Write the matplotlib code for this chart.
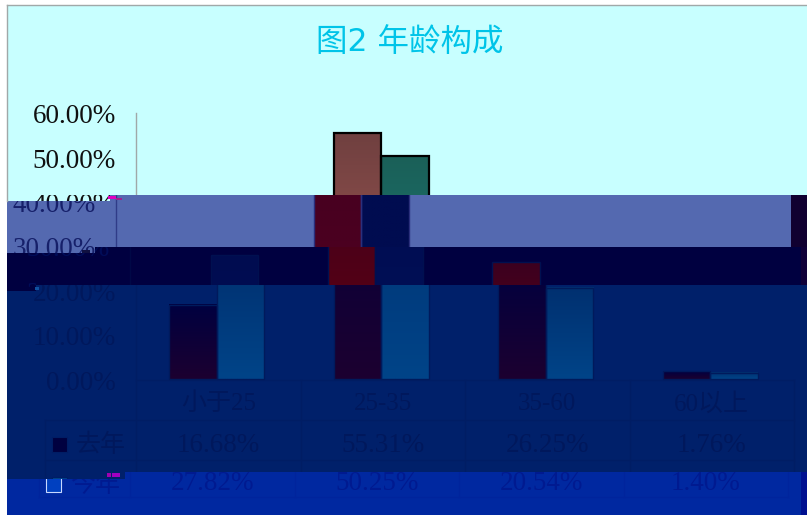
import numpy as np
import matplotlib
matplotlib.use("Agg")
import matplotlib.pyplot as plt
from matplotlib.path import Path
from matplotlib.colors import to_rgb
from matplotlib.patches import Rectangle
from matplotlib.transforms import Bbox, TransformedBbox

W, H = 807, 515

#chart data
categories = ["小于25", "25-35", "35-60", "60以上"]
series_names = ["去年", "今年"]
last_year = [16.68, 55.31, 26.25, 1.76]
this_year = [27.82, 50.25, 20.54, 1.40]
y_ticks = [0, 10, 20, 30, 40, 50, 60]
title = "图2 年龄构成"

#layout in pixels
X_ZERO, Y_ZERO = 216.8, 379.0
CELL = 164.5
PER_PCT = 4.44
BAR_W = 0.288
ROWS = [380, 420, 460, 497]
COLS = [136, 300.5, 465, 629.5, 794]
TEXT_FONT = ["Liberation Serif", "Noto Sans CJK SC"]
TITLE_FONT = ["DejaVu Sans", "Noto Sans CJK SC"]


def poly(rects):
    #join rectangles into one clip path
    verts, codes = [], []
    for x0, x1, y0, y1 in rects:
        verts += [(x0, y0), (x1, y0), (x1, y1), (x0, y1), (x0, y0)]
        codes += [Path.MOVETO, Path.LINETO, Path.LINETO, Path.LINETO, Path.CLOSEPOLY]
    return Path(verts, codes)


#the picture is broken into bands, each with its own shift and colours
bands = [
    dict(dx=0, rects=[(7, W, 5, 195), (7, 110, 195, 201)],
         bg="#c8ffff", text="#101010", line="#a0a8a8", title="#00c4e8",
         edge="#000000", b1=("#704040", "#b06058"), b2=("#1a6058", "#208080"), lw=1.6),
    dict(dx=-20, rects=[(110, W, 195, 201), (7, 95, 201, 253), (95, W, 201, 247)],
         bg="#5469b0", text="#16206a", line="#303c88", title="#000000",
         edge="#2a2f7c", b1=("#440020", "#540020"), b2=("#000c50", "#000c50"), lw=1),
    dict(dx=-6, rects=[(95, W, 247, 253), (7, 36, 253, 291), (36, W, 253, 285)],
         bg="#000040", text="#000c58", line="#000846", title="#000000",
         edge="#001050", b1=("#3c0020", "#600010"), b2=("#000c50", "#001058"), lw=1),
    dict(dx=0, rects=[(36, W, 285, 291), (7, 125, 291, 479), (125, W, 291, 472)],
         bg="#00206a", text="#00185c", line="#001d64", title="#000000",
         edge="#001a5c", b1=("#000040", "#1c0030"), b2=("#003070", "#004488"), lw=1),
    dict(dx=-6, rects=[(125, W, 472, 479), (7, W, 479, 515)],
         bg="#0028a0", text="#001a90", line="#00249c", title="#000000",
         edge="#0018a0", b1=("#000040", "#1c0030"), b2=("#0040c0", "#0040c0"), lw=1),
]

#leftovers of the shifted bands at the right edge
edge_strips = [(791, 195, 16, 52, "#100030"), (801, 247, 6, 38, "#100038"), (801, 472, 6, 43, "#001090")]
#small noise specks where the bands restart
specks = [(108, 196, 8, 3, "#e000c0"), (116, 198, 6, 2, "#a02090"), (82, 250, 8, 3, "#101040"),
          (35, 287, 4, 3, "#1050a0"), (107, 473, 4, 4, "#a000b0"), (112, 473, 8, 4, "#a000c0")]

fig = plt.figure(figsize=(W / 100, H / 100), dpi=100, facecolor="white")
renderer = fig.canvas.get_renderer()
base = fig.add_axes([0, 0, 1, 1])
base.set_xlim(0, W)
base.set_ylim(H, 0)
base.axis("off")


def gradient_bar(ax, bar, colors, clip):
    x0, w, h = bar.get_x(), bar.get_width(), bar.get_height()
    top, bottom = np.array(to_rgb(colors[0])), np.array(to_rgb(colors[1]))
    t = np.linspace(0, 1, 64)[:, None]
    img = (top + (bottom - top) * t)[:, None, :]
    im = ax.imshow(img, extent=[x0, x0 + w, 0, h], aspect="auto", zorder=2, interpolation="bilinear")
    im.set_clip_path(*clip)


def draw_band(band):
    dx = band["dx"]
    rects = band["rects"]
    #pixel axes for background, table and text, data axes for the bars
    px = fig.add_axes([0, 0, 1, 1], frameon=False)
    px.set_xlim(-dx, W - dx)
    px.set_ylim(H, 0)
    px.axis("off")
    data = fig.add_axes([0, 0, 1, 1], frameon=False)
    data.axis("off")
    xlim = ((-dx - X_ZERO) / CELL, (W - dx - X_ZERO) / CELL)
    ylim = ((Y_ZERO - H) / PER_PCT, Y_ZERO / PER_PCT)

    clip = (poly(rects), base.transData)
    artists = []

    artists.append(base.add_patch(Rectangle((0, 0), W, H, fc=band["bg"], ec="none", zorder=1)))

    def add_text(x, y, s, size, color=None, ha="center", family=TEXT_FONT):
        #agg clips text to boxes only, so one copy per rectangle it touches
        for x0, x1, y0, y1 in rects:
            t = px.text(x, y, s, fontsize=size, color=color or band["text"], ha=ha, va="center",
                        family=family, zorder=6)
            e = t.get_window_extent(renderer)
            top_y, bot_y = H - e.y1 + 4, H - e.y0 - 4
            if min(bot_y, y1) - max(top_y, y0) < 3 or min(e.x1, x1) - max(e.x0, x0) < 2:
                t.remove()
                continue
            t.set_clip_on(True)
            t.set_clip_box(TransformedBbox(Bbox.from_extents(x0, y0, x1, y1), base.transData))

    add_text(410, 43, title, 22.7, color=band["title"], family=TITLE_FONT)
    for t in y_ticks:
        add_text(116, Y_ZERO - t * PER_PCT + 4, "%.2f%%" % t, 19.5, ha="right")

    #table and axis lines
    lc = band["line"]
    artists += px.plot([COLS[0], COLS[0]], [Y_ZERO - 60 * PER_PCT, ROWS[-1]], color=lc, lw=1, zorder=5)
    artists += px.plot([COLS[0], COLS[-1]], [ROWS[0], ROWS[0]], color=lc, lw=1, zorder=5)
    for c in COLS[1:]:
        artists += px.plot([c, c], [ROWS[0], ROWS[-1]], color=lc, lw=1, zorder=5)
    for r in ROWS[1:]:
        artists += px.plot([45, COLS[-1]], [r, r], color=lc, lw=1, zorder=5)
    artists += px.plot([45, 45], [ROWS[1], ROWS[-1]], color=lc, lw=1, zorder=5)

    for i, cat in enumerate(categories):
        cx = COLS[0] + CELL * (i + 0.5)
        add_text(cx, 404, cat, 18)
        add_text(cx, 445, "%.2f%%" % last_year[i], 19.5)
        add_text(cx, 484, "%.2f%%" % this_year[i], 19.5)

    #legend keys inside the table
    add_text(101, 445, series_names[0], 18)
    add_text(101, 485, series_names[1], 18)
    artists.append(px.add_patch(Rectangle((52, 437), 15, 15, fc=band["b1"][0], ec=band["line"], lw=0.8, zorder=5)))
    artists.append(px.add_patch(Rectangle((52, 477), 15, 15, fc=band["b2"][1], ec="#c8d8ff" if dx else band["line"], lw=0.8, zorder=5)))

    #bars
    x = np.arange(len(categories))
    for vals, off, cols in ((last_year, -BAR_W / 2, band["b1"]), (this_year, BAR_W / 2, band["b2"])):
        bars = data.bar(x + off, vals, BAR_W, facecolor="none", edgecolor=band["edge"], linewidth=band["lw"], zorder=4)
        for b in bars:
            b.set_clip_path(*clip)
            gradient_bar(data, b, cols, clip)
    data.set_xlim(*xlim)
    data.set_ylim(*ylim)

    for a in artists:
        a.set_clip_on(True)
        a.set_clip_path(*clip)


for band in bands:
    draw_band(band)

top = fig.add_axes([0, 0, 1, 1], frameon=False)
top.set_xlim(0, W)
top.set_ylim(H, 0)
top.axis("off")
for x0, y0, w, h, c in edge_strips + specks:
    top.add_patch(Rectangle((x0, y0), w, h, fc=c, ec="none"))
top.plot([7, 7], [5, 201], color="#a0a8a8", lw=1)
top.plot([7, W], [5, 5], color="#a0a8a8", lw=1)

fig.savefig("out.png", dpi=100)
